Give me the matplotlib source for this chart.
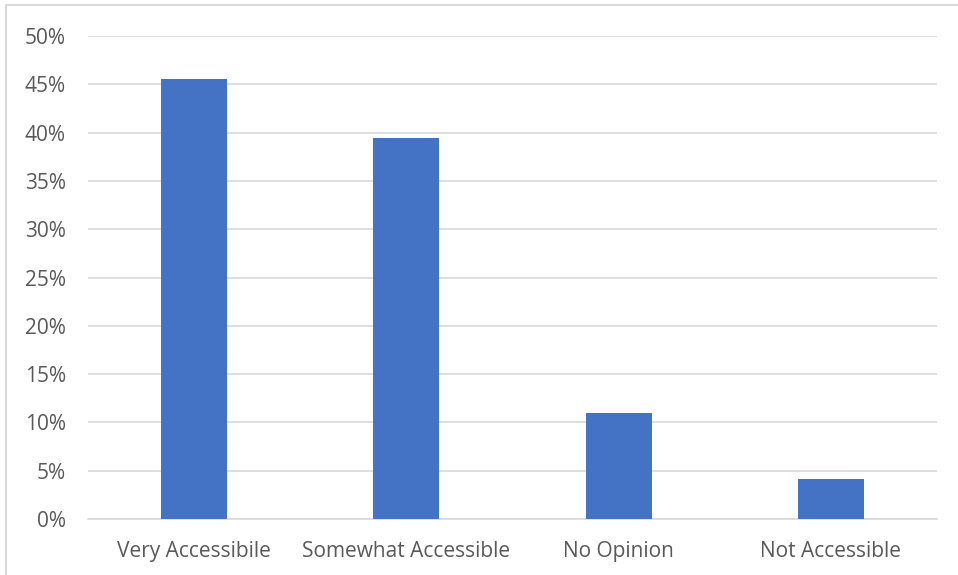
import matplotlib.pyplot as plt
from matplotlib.lines import Line2D
from matplotlib.ticker import FuncFormatter, MultipleLocator

categories = ["Very Accessibile", "Somewhat Accessible", "No Opinion", "Not Accessible"]
values = [45.5, 39.4, 11.0, 4.1]

plt.rcParams['font.family'] = ['Open Sans', 'DejaVu Sans']

fig = plt.figure(figsize=(9.58, 5.75), dpi=100)
ax = fig.add_axes([88 / 958, 56 / 575, 849 / 958, 483 / 575])

x = range(len(categories))
ax.bar(x, values, width=0.31, color='#4472C4', zorder=3)

ax.set_xlim(-0.5, len(categories) - 0.5)
ax.set_ylim(0, 50)
ax.yaxis.set_major_locator(MultipleLocator(5))
ax.yaxis.set_major_formatter(FuncFormatter(lambda v, p: f"{v:.0f}%"))
ax.set_xticks(list(x))
ax.set_xticklabels(categories)

ax.grid(axis='y', color='#D9D9D9', linewidth=1.2, zorder=0)
for s in ['top', 'right', 'left']:
    ax.spines[s].set_visible(False)
ax.spines['bottom'].set_color('#D9D9D9')
ax.spines['bottom'].set_linewidth(1.2)
ax.tick_params(axis='both', length=0, colors='#595959', labelsize=15)
ax.tick_params(axis='x', pad=15.5)
ax.tick_params(axis='y', pad=16)

# outer chart frame (left and top edges visible)
fig.add_artist(Line2D([6 / 958, 6 / 958], [0, 1 - 5 / 575], transform=fig.transFigure,
                      color='#D9D9D9', linewidth=1.5))
fig.add_artist(Line2D([6 / 958, 1], [1 - 5 / 575, 1 - 5 / 575], transform=fig.transFigure,
                      color='#D9D9D9', linewidth=1.5))

fig.savefig("out.png", dpi=100)
